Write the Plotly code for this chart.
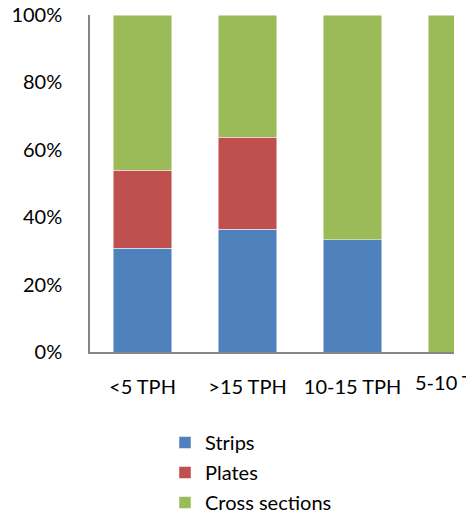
import plotly.graph_objects as go

categories = ["<5 TPH", ">15 TPH", "10-15 TPH", "5-10 TPH"]
strips = [30.8, 36.4, 33.3, 0.0]
plates = [23.1, 27.3, 0.0, 0.0]
cross_sections = [46.1, 36.3, 66.7, 100.0]
y_ticks = [0, 20, 40, 60, 80, 100]
y_tick_labels = ["0%", "20%", "40%", "60%", "80%", "100%"]

FONT = "Lato"
FS = 20
W, H = 466, 517
ML, MR, MT, MB = 90, 12, 15, 165
plot_w = W - ML - MR
plot_h = H - MT - MB

series = [
    ("Strips", strips, "#4F81BD"),
    ("Plates", plates, "#C0504D"),
    ("Cross sections", cross_sections, "#9BBB59"),
]

fig = go.Figure()
for i, (name, vals, col) in enumerate(series):
    fig.add_trace(go.Bar(
        x=list(range(len(categories))), y=vals, name=name,
        marker=dict(color=col, line=dict(color="rgba(255,255,255,0.6)", width=0.8)),
        width=0.56, legendgroup=name,
    ))

cat_px = 105.0
x_max = -0.5 + plot_w / cat_px

fig.update_layout(
    width=W, height=H,
    margin=dict(l=ML, r=MR, t=MT, b=MB, autoexpand=False),
    barmode="stack",
    plot_bgcolor="white", paper_bgcolor="white",
    font=dict(family=FONT, size=FS, color="#000000"),
    showlegend=True,
    legend=dict(
        orientation="v", x=(165 - ML) / plot_w, xanchor="left",
        y=-(423 - (H - MB)) / plot_h, yanchor="top",
        traceorder="grouped", tracegroupgap=1,
        font=dict(family=FONT, size=FS, color="#000000"),
        bgcolor="rgba(0,0,0,0)",
    ),
    xaxis=dict(
        range=[-0.5, x_max],
        tickmode="array", tickvals=[0, 1, 2], ticktext=categories[:3],
        showline=True, linecolor="#868686", linewidth=1.5,
        ticks="", showgrid=False, zeroline=False,
        ticklabelstandoff=16,
        tickfont=dict(family=FONT, size=FS, color="#000000"),
    ),
    yaxis=dict(
        range=[0, 100],
        tickmode="array", tickvals=y_ticks, ticktext=y_tick_labels,
        showline=True, linecolor="#868686", linewidth=1.5,
        ticks="", showgrid=False, zeroline=False,
        ticklabelstandoff=22,
        tickfont=dict(family=FONT, size=FS, color="#000000"),
    ),
)

# partially visible last category label (cut off at the right edge)
fig.add_annotation(
    x=3.5 * cat_px / plot_w, xref="paper", xanchor="center",
    y=0, yref="paper", yanchor="top", yshift=-16,
    text=categories[3], showarrow=False,
    font=dict(family=FONT, size=FS, color="#000000"),
)

fig.write_html("out.html")
